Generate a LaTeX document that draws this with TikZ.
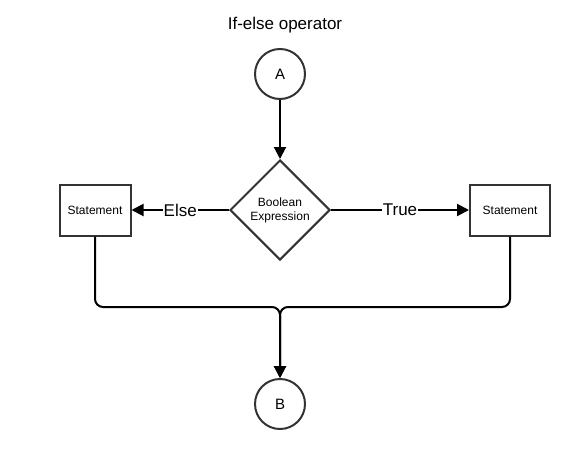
\documentclass[tikz,border=0pt]{standalone}
\usepackage{fontspec}
\setmainfont{Liberation Sans}
\usetikzlibrary{shapes.geometric,arrows.meta}
\begin{document}
\begin{tikzpicture}[x=1pt,y=-1pt,
  shapeline/.style={draw=black!80, line width=2pt},
  term/.style={shapeline, circle, minimum size=50pt, inner sep=0pt, font=\fontsize{15}{17}\selectfont},
  stmt/.style={shapeline, rectangle, minimum width=71pt, minimum height=51pt, inner sep=0pt, font=\fontsize{12}{14}\selectfont},
  decision/.style={shapeline, diamond, minimum width=100pt, minimum height=100pt, inner sep=0pt, align=center, font=\fontsize{12}{14}\selectfont},
  conn/.style={draw=black, line width=2pt, -{Triangle[length=12pt,width=12pt]}},
  lbl/.style={fill=white, inner sep=1pt, font=\fontsize{17}{19}\selectfont}]
\useasboundingbox (0,0) rectangle (585,450);
\node[font=\fontsize{17}{19}\selectfont] (title) at (285,25) {If-else operator};
\node[term] (A) at (280,74) {A};
\node[decision] (D) at (280,210) {Boolean\\Expression};
\node[stmt] (L) at (95,210) {Statement};
\node[stmt, minimum width=80pt] (R) at (510,210) {Statement};
\node[term] (B) at (280,404) {B};
\coordinate (J) at (280,307);
\draw[conn] (A) -- (D);
\draw[conn] (D.west) -- node[lbl] {Else} (L.east);
\draw[conn] (D.east) -- node[lbl] {True} (R.west);
\draw[conn, rounded corners=8pt] (L.south) |- (J) -- (B.north);
\draw[conn, rounded corners=8pt] (R.south) |- (J) -- (B.north);
\end{tikzpicture}
\end{document}
